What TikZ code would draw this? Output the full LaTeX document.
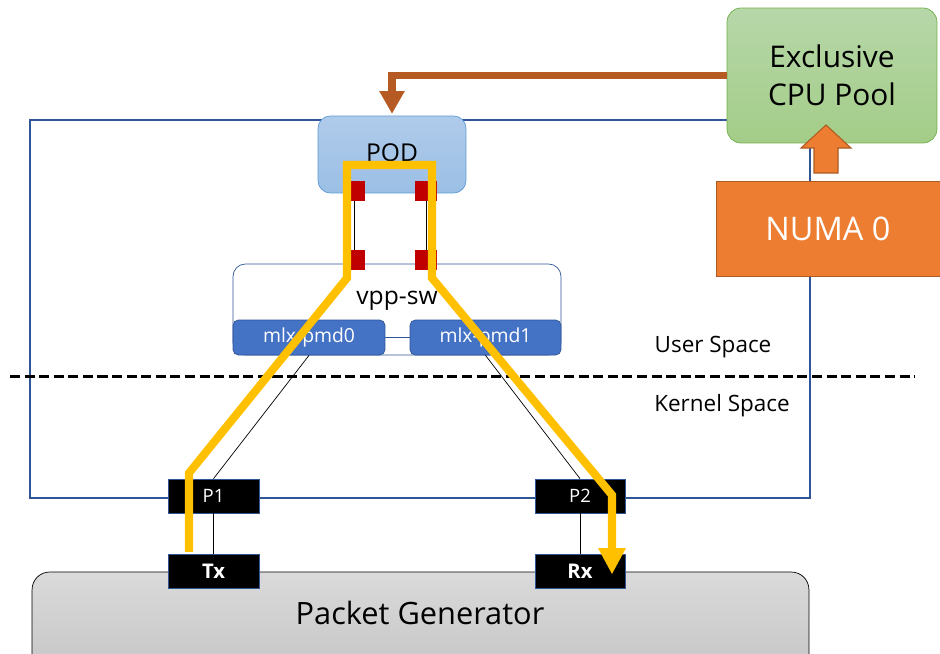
\documentclass[tikz,border=0pt]{standalone}
\usepackage{fontspec}
\setmainfont{Open Sans}
\usetikzlibrary{calc, arrows.meta}

\definecolor{frameblue}{HTML}{2F5597}
\definecolor{podtop}{HTML}{B0CBEA}
\definecolor{podbot}{HTML}{9BBFE5}
\definecolor{podline}{HTML}{5B9BD5}
\definecolor{cputop}{HTML}{B7D7A9}
\definecolor{cpubot}{HTML}{A3CD88}
\definecolor{cpuline}{HTML}{70AD47}
\definecolor{numafill}{HTML}{ED7D31}
\definecolor{numaline}{HTML}{AE5A21}
\definecolor{pinbrown}{HTML}{B45A22}
\definecolor{portred}{HTML}{C00000}
\definecolor{pmdfill}{HTML}{4472C4}
\definecolor{pathyellow}{HTML}{FFC000}
\definecolor{gentop}{HTML}{DADADA}
\definecolor{genbot}{HTML}{C6C6C6}

\tikzset{
	port/.style = {fill = portred, minimum width = 0.44cm, minimum height = 0.4cm, inner sep = 0pt},
	pmd/.style = {draw = frameblue, fill = pmdfill, rounded corners = 3pt, minimum width = 3.04cm, minimum height = 0.7cm, text = white, font = \fontsize{11}{13}\selectfont},
	nic/.style = {draw = frameblue, fill = black, minimum width = 1.82cm, minimum height = 0.68cm, text = white, inner sep = 0pt},
}

\begin{document}
\begin{tikzpicture}[x = 0.02cm, y = -0.02cm]
		\useasboundingbox (0,0) rectangle (940,653);
		
		\draw [frameblue, line width = 0.6pt] (30,120) rectangle (810,498);
		
		\node [draw = black, top color = gentop, bottom color = genbot, rounded corners = 10pt, minimum width = 15.54cm, minimum height = 2cm] (gen) at (420.5,622) {};
		\node [font = \fontsize{17.5}{20}\selectfont] (gen text) at (420,613) {Packet Generator};
		
		\draw [line width = 1.7pt, dash pattern = on 5.7pt off 2.6pt] (10,376) -- (915,376);
		\node [font = \fontsize{12.8}{15}\selectfont] (user) at (713,347) {User Space};
		\node [font = \fontsize{12.8}{15}\selectfont] (kernel) at (722,406) {Kernel Space};
		
		\node [draw = podline, top color = podtop, bottom color = podbot, rounded corners = 7pt, minimum width = 2.96cm, minimum height = 1.54cm] (pod) at (392,154.5) {};
		\node [font = \fontsize{14}{16}\selectfont] (pod text) at (392,153) {POD};
		
		\node [draw = cpuline, top color = cputop, bottom color = cpubot, rounded corners = 8pt, minimum width = 4.2cm, minimum height = 2.7cm, align = center, font = \fontsize{17}{21.5}\selectfont] (cpu) at (832,75.5) {Exclusive\\CPU Pool};
		
		\node [draw = numaline, fill = numafill, minimum width = 4.48cm, minimum height = 1.9cm, text = white, font = \fontsize{18.5}{21}\selectfont] (numa) at (828,228.5) {NUMA 0};
		
		\draw [numaline, fill = numafill, line width = 0.6pt] (814,173) -- (814,148) -- (801,148) -- (826,125) -- (851,148) -- (838,148) -- (838,173) -- cycle;
		
		\draw [pinbrown, line width = 4.5pt, -{Triangle[width = 13.6pt, length = 13pt]}] (cpu.west) -| ([yshift = 1pt]pod.north);
		
		\node [draw = frameblue, fill = white, rounded corners = 7pt, minimum width = 6.56cm, minimum height = 1.82cm] (vpp) at (397,309.5) {};
		\node [font = \fontsize{14}{16}\selectfont] (vpp text) at (397,301) {vpp-sw};
		
		\node [pmd] (pmd0) at (309,337.5) {mlx-pmd0};
		\node [pmd, minimum width = 3.02cm] (pmd1) at (485.5,337.5) {mlx-pmd1};
		\draw [frameblue] (pmd0.east) -- (pmd1.west);
		
		\node [port] (pod port0) at (354,191) {};
		\node [port] (pod port1) at (426,191) {};
		\node [port] (vpp port0) at (354,260) {};
		\node [port] (vpp port1) at (426,260) {};
		\draw (pod port0.south) -- (vpp port0.north);
		\draw (pod port1.south) -- (vpp port1.north);
		
		\node [nic, font = \fontsize{10.5}{12}\selectfont] (p1) at (213.5,496) {P1};
		\node [nic, minimum width = 1.8cm, font = \fontsize{10.5}{12}\selectfont] (p2) at (580,496) {P2};
		\node [nic, font = \bfseries\fontsize{11.5}{13}\selectfont] (tx) at (213.5,571) {Tx};
		\node [nic, minimum width = 1.8cm, font = \bfseries\fontsize{11.5}{13}\selectfont] (rx) at (580,571) {Rx};
		
		\draw (pmd0.south) -- (p1.north);
		\draw (pmd1.south) -- (p2.north);
		\draw (p1.south) -- (tx.north);
		\draw (p2.south) -- (rx.north);
		
		\draw [pathyellow, line width = 4.6pt, line join = miter, -{Triangle[width = 14.7pt, length = 15pt]}] ([xshift = -0.49cm, yshift = 1pt]tx.north) -- (189,473) -- (347,278) -- (347,165) -- (432,165) -- (432,278) -- (612,495) -- ([xshift = 0.64cm, yshift = -2pt]rx.center);
	\end{tikzpicture}
\end{document}
